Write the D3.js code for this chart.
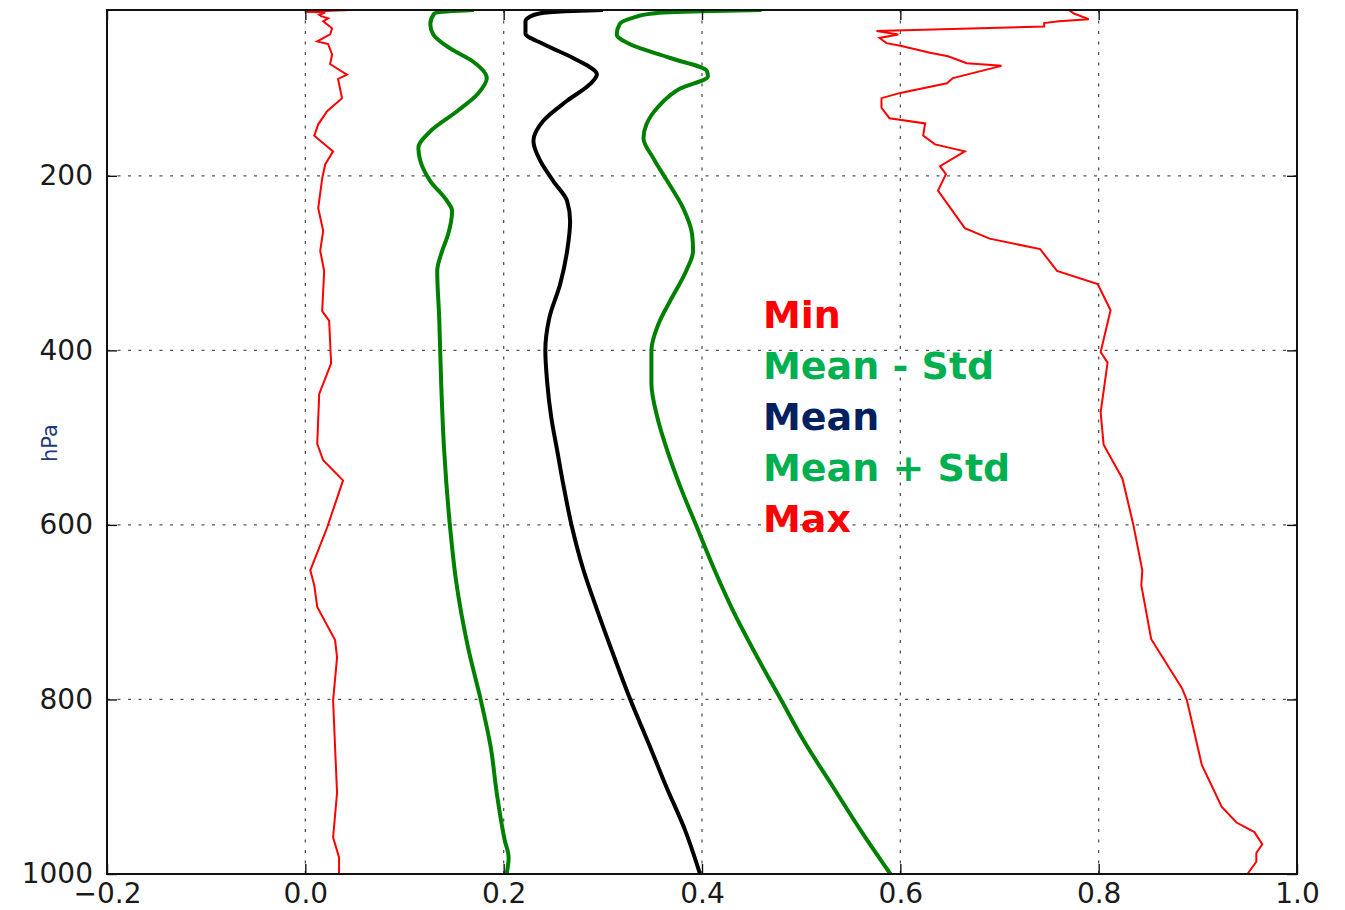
<!DOCTYPE html>
<html>
<head>
<meta charset="utf-8">
<script src="https://cdn.jsdelivr.net/npm/d3@7"></script>
<style>
  body { margin: 0; background: #fff; }
  svg { display: block; }
</style>
</head>
<body>
<div id="chart"></div>
<script>
// ticks and legend labels
var xTicks = [-0.2, 0.0, 0.2, 0.4, 0.6, 0.8, 1.0];
var pTicks = [200, 400, 600, 800, 1000];
var legendLabels = ["Min", "Mean - Std", "Mean", "Mean + Std", "Max"];
var legendColors = ["#ff0000", "#00b050", "#002060", "#00b050", "#ff0000"];

// profiles as [pressure hPa, value]
var minProfile = [[10, 0.045], [12, 0.001], [13, 0.02], [15.5, 0.014], [17, 0.016], [19.5, 0.023],
  [23, 0.018], [31, 0.027], [38, 0.025], [46, 0.012], [49, 0.023], [61, 0.027], [72, 0.025],
  [77, 0.032], [84, 0.042], [89, 0.033], [100, 0.035], [111, 0.037], [126, 0.022], [141, 0.013],
  [154, 0.009], [172, 0.028], [187, 0.020], [203, 0.017], [237, 0.013], [263, 0.018], [286, 0.015],
  [309, 0.019], [355, 0.017], [366, 0.024], [415, 0.026], [450, 0.014], [507, 0.012], [526, 0.018],
  [549, 0.038], [603, 0.022], [652, 0.005], [669, 0.009], [694, 0.012], [732, 0.030], [752, 0.032],
  [801, 0.028], [855, 0.030], [907, 0.032], [958, 0.028], [981, 0.034], [1000, 0.034]];

var maxProfile = [[10, 0.77], [14, 0.775], [20.5, 0.79], [23, 0.76], [25, 0.745], [29, 0.745],
  [34, 0.576], [38, 0.598], [42, 0.579], [48, 0.586], [51, 0.600], [59, 0.630], [63, 0.648],
  [71, 0.667], [74, 0.702], [88, 0.653], [94, 0.647], [105, 0.600], [111, 0.581], [122, 0.581],
  [134, 0.589], [140, 0.625], [154, 0.623], [164, 0.635], [172, 0.665], [189, 0.640], [198, 0.646],
  [217, 0.638], [260, 0.665], [272, 0.690], [284, 0.741], [309, 0.758], [324, 0.799], [354, 0.812],
  [402, 0.802], [414, 0.809], [471, 0.802], [508, 0.805], [547, 0.824], [600, 0.835], [652, 0.844],
  [669, 0.843], [731, 0.853], [787, 0.884], [801, 0.889], [875, 0.904], [923, 0.924], [941, 0.939],
  [952, 0.957], [966, 0.965], [976, 0.959], [986, 0.959], [1000, 0.950]];

var meanProfile = [[10, 0.300], [11.5, 0.262], [14, 0.236], [18, 0.226], [23, 0.222], [37, 0.222],
  [49, 0.240], [65, 0.270], [84, 0.294], [95, 0.287], [114, 0.264], [137, 0.240], [160, 0.230],
  [183, 0.237], [206, 0.250], [229, 0.264], [252, 0.267], [286, 0.264], [324, 0.257], [363, 0.246],
  [400, 0.242], [438, 0.244], [477, 0.248], [515, 0.254], [553, 0.260], [603, 0.269], [650, 0.280],
  [700, 0.295], [750, 0.311], [801, 0.328], [850, 0.346], [900, 0.364], [950, 0.383], [1000, 0.398]];

var meanMinusStd = [[10, 0.170], [11.5, 0.145], [14, 0.130], [26, 0.126], [38, 0.129], [54, 0.146],
  [69, 0.169], [88, 0.183], [106, 0.174], [126, 0.153], [149, 0.126], [168, 0.114], [183, 0.116],
  [206, 0.126], [229, 0.143], [240, 0.148], [267, 0.144], [286, 0.138], [309, 0.133], [363, 0.135],
  [438, 0.137], [515, 0.140], [603, 0.146], [664, 0.152], [740, 0.164], [801, 0.177], [855, 0.187],
  [907, 0.193], [961, 0.201], [981, 0.205], [1000, 0.203]];

var meanPlusStd = [[10, 0.460], [11.5, 0.400], [14, 0.350], [19, 0.330], [26, 0.317], [38, 0.314],
  [49, 0.327], [65, 0.368], [80, 0.405], [86, 0.406], [100, 0.378], [122, 0.355], [141, 0.344],
  [157, 0.341], [180, 0.351], [206, 0.365], [237, 0.381], [267, 0.390], [286, 0.391], [309, 0.384],
  [343, 0.368], [370, 0.356], [400, 0.349], [438, 0.349], [477, 0.355], [515, 0.365], [553, 0.377],
  [603, 0.395], [650, 0.412], [700, 0.432], [750, 0.455], [801, 0.480], [850, 0.504], [900, 0.532],
  [950, 0.560], [1000, 0.590]];

var margin = {top: 10, right: 48, bottom: 36, left: 107},
    width = 1190,
    height = 864;

var svg = d3.select("#chart").append("svg")
    .attr("width", 1345)
    .attr("height", 910);

var g = svg.append("g")
    .attr("transform", "translate(" + margin.left + "," + margin.top + ")");

var x = d3.scaleLinear().domain([-0.2, 1.0]).range([0, width]);
var y = d3.scaleLinear().domain([10, 1000]).range([0, height]);

var tickFont = "'DejaVu Sans', sans-serif";

// dotted grid
var grid = g.append("g").attr("class", "grid");
grid.selectAll("line.gx")
    .data(xTicks.slice(1, -1))
    .enter().append("line")
    .attr("x1", function(d) { return x(d); })
    .attr("x2", function(d) { return x(d); })
    .attr("y1", 0).attr("y2", height);
grid.selectAll("line.gy")
    .data(pTicks.slice(0, -1))
    .enter().append("line")
    .attr("y1", function(d) { return y(d); })
    .attr("y2", function(d) { return y(d); })
    .attr("x1", 0).attr("x2", width);
grid.selectAll("line")
    .attr("stroke", "#555")
    .attr("stroke-width", 1.3)
    .attr("stroke-dasharray", "3,7.5");

// clip the profiles to the axes box
g.append("clipPath").attr("id", "plotclip")
  .append("rect").attr("width", width).attr("height", height);

var smooth = d3.line()
    .x(function(d) { return x(d[1]); })
    .y(function(d) { return y(d[0]); })
    .curve(d3.curveMonotoneY);

var jagged = d3.line()
    .x(function(d) { return x(d[1]); })
    .y(function(d) { return y(d[0]); });

var lines = g.append("g").attr("clip-path", "url(#plotclip)");

lines.append("path").datum(minProfile)
    .attr("d", jagged).attr("fill", "none")
    .attr("stroke", "#ff0000").attr("stroke-width", 2);
lines.append("path").datum(maxProfile)
    .attr("d", jagged).attr("fill", "none")
    .attr("stroke", "#ff0000").attr("stroke-width", 2);
lines.append("path").datum(meanMinusStd)
    .attr("d", smooth).attr("fill", "none")
    .attr("stroke", "#008000").attr("stroke-width", 4);
lines.append("path").datum(meanPlusStd)
    .attr("d", smooth).attr("fill", "none")
    .attr("stroke", "#008000").attr("stroke-width", 4);
lines.append("path").datum(meanProfile)
    .attr("d", smooth).attr("fill", "none")
    .attr("stroke", "#000").attr("stroke-width", 4);

// legend text block
g.append("g").selectAll("text")
    .data(legendLabels)
    .enter().append("text")
    .attr("x", 656)
    .attr("y", function(d, i) { return 318 + i * 51; })
    .attr("fill", function(d, i) { return legendColors[i]; })
    .style("font-family", "'DejaVu Sans', Verdana, sans-serif")
    .style("font-weight", "bold")
    .style("font-size", "38px")
    .text(function(d) { return d; });

// axes: inward ticks on all four sides
var fmtX = function(d) { return d3.format(".1f")(d).replace("-", "\u2212"); };

g.append("g").attr("transform", "translate(0," + height + ")")
    .call(d3.axisBottom(x).tickValues(xTicks).tickSize(-10).tickPadding(9).tickFormat(fmtX));
g.append("g")
    .call(d3.axisLeft(y).tickValues(pTicks).tickSize(-10).tickPadding(14).tickFormat(d3.format("d")));
g.append("g")
    .call(d3.axisTop(x).tickValues(xTicks).tickSize(-10).tickFormat(""));
g.append("g").attr("transform", "translate(" + width + ",0)")
    .call(d3.axisRight(y).tickValues(pTicks).tickSize(-10).tickFormat(""));

g.selectAll(".domain").remove();
g.selectAll(".tick line").attr("stroke", "#111").attr("stroke-width", 1.4);
g.selectAll(".tick text")
    .attr("fill", "#1a1a1a")
    .style("font-family", tickFont)
    .style("font-size", "28px");

// frame
g.append("rect")
    .attr("width", width).attr("height", height)
    .attr("fill", "none")
    .attr("stroke", "#111")
    .attr("stroke-width", 2);

// y label
svg.append("text")
    .attr("transform", "translate(57,443) rotate(-90)")
    .attr("text-anchor", "middle")
    .attr("fill", "#1f3a7a")
    .style("font-family", "'DejaVu Sans', Verdana, sans-serif")
    .style("font-size", "21px")
    .text("hPa");
</script>
</body>
</html>
